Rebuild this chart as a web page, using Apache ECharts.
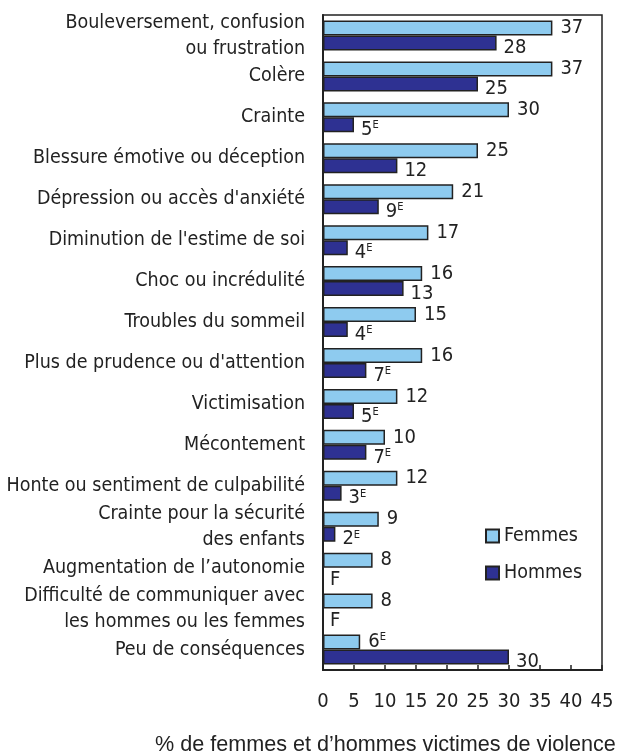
<html>
<head>
    <meta http-equiv="Content-Type" content="text/html; charset=utf-8">
    <title>echarts</title>
    <style>body{margin:0;background:#fff;}</style>
</head>
<body>
<div id="main" style="width:618px;height:753px;"></div>
<script type="text/javascript" src="https://cdn.jsdelivr.net/npm/echarts@6/dist/echarts.min.js"></script>
<script type="text/javascript">
var categories = [
    "Bouleversement, confusion\nou frustration",
    "Colère",
    "Crainte",
    "Blessure émotive ou déception",
    "Dépression ou accès d'anxiété",
    "Diminution de l'estime de soi",
    "Choc ou incrédulité",
    "Troubles du sommeil",
    "Plus de prudence ou d'attention",
    "Victimisation",
    "Mécontement",
    "Honte ou sentiment de culpabilité",
    "Crainte pour la sécurité\ndes enfants",
    "Augmentation de l’autonomie",
    "Difficulté de communiquer avec\nles hommes ou les femmes",
    "Peu de conséquences"
];
var femmes = [37, 37, 30, 25, 21, 17, 16, 15, 16, 12, 10, 12, 9, 8, 8, 6];
var femmesFlag = ["", "", "", "", "", "", "", "", "", "", "", "", "", "", "", "E"];
var hommes = [28, 25, 5, 12, 9, 4, 13, 4, 7, 5, 7, 3, 2, 0, 0, 30];
var hommesFlag = ["", "", "E", "", "E", "E", "", "E", "E", "E", "E", "E", "E", "F", "F", ""];
var xTicks = [0, 5, 10, 15, 20, 25, 30, 35, 40, 45];

var FONT = "'Liberation Sans Narrow', 'Arial Narrow', 'DejaVu Sans Condensed', sans-serif";

function labelText(v, flag) {
    if (flag == "F") return "{v|F}";
    if (flag == "E") return "{v|" + v + "}{e|E}";
    return "{v|" + v + "}";
}

var richStyle = {
    v: {fontSize: 20, fontFamily: FONT, color: "#222"},
    e: {fontSize: 11, fontFamily: FONT, color: "#222", verticalAlign: "top", padding: [0, 0, 8, 0]}
};

var myChart = echarts.init(document.getElementById("main"));

var option = {
    animation: false,
    grid: {left: 323, top: 15, right: 16, bottom: 83, show: true, borderColor: "#222", borderWidth: 1.5},
    legend: {
        orient: "vertical", left: 480, top: 521, itemWidth: 13, itemHeight: 13, itemGap: 17,
        icon: "rect",
        textStyle: {fontSize: 19.5, fontFamily: FONT, color: "#222"},
        data: ["Femmes", "Hommes"]
    },
    xAxis: {
        type: "value", min: 0, max: 45, interval: 5,
        axisLine: {show: true, lineStyle: {color: "#222", width: 2}},
        axisTick: {show: true, inside: true, length: 5, lineStyle: {color: "#222", width: 1.5}},
        axisLabel: {
            margin: 22, fontSize: 20, fontFamily: FONT, color: "#222",
            formatter: function (v) { return xTicks.indexOf(v) >= 0 ? String(v) : ""; }
        },
        splitLine: {show: false}
    },
    yAxis: {
        type: "category", inverse: true, data: categories,
        axisLine: {show: true, lineStyle: {color: "#222", width: 2}},
        axisTick: {show: false},
        axisLabel: {margin: 18, fontSize: 19.5, lineHeight: 26, fontFamily: FONT, color: "#222"}
    },
    graphic: [{
        type: "text", left: 155, top: 734,
        style: {text: "% de femmes et d’hommes victimes de violence", fontSize: 21.6,
            fontFamily: "'Liberation Sans', Arial, sans-serif", fill: "#222"}
    }],
    series: [{
        name: "Femmes", type: "bar", barWidth: 15, barGap: "0%",
        itemStyle: {color: "#8ECBEF", borderColor: "#222", borderWidth: 1.5},
        label: {
            show: true, position: "right", distance: 8, rich: richStyle,
            formatter: function (p) { return labelText(femmes[p.dataIndex], femmesFlag[p.dataIndex]); }
        },
        data: femmes
    }, {
        name: "Hommes", type: "bar", barWidth: 15,
        itemStyle: {color: "#2E3192", borderColor: "#222", borderWidth: 1.5},
        label: {
            show: true, position: "right", distance: 7, offset: [0, 5], rich: richStyle,
            formatter: function (p) { return labelText(hommes[p.dataIndex], hommesFlag[p.dataIndex]); }
        },
        data: hommes.map(function (v, i) {
            return hommesFlag[i] == "F" ? {value: v, itemStyle: {borderWidth: 0}} : v;
        })
    }]
};
myChart.setOption(option);
</script>
</body>
</html>
